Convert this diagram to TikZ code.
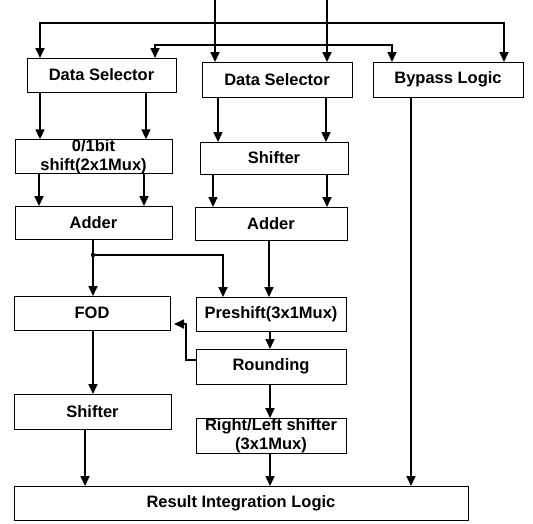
\documentclass[tikz,border=0pt]{standalone}
\usepackage{fontspec}
\setmainfont{Liberation Sans}
\usetikzlibrary{arrows.meta}
\begin{document}
\begin{tikzpicture}[x=1pt,y=-1pt,
  box/.style={draw=black, line width=1pt, inner sep=0pt, outer sep=0pt, align=center,
    font=\bfseries\fontsize{16.5}{19}\selectfont},
  wire/.style={line width=1.7pt, line join=miter},
  arr/.style={wire, -{Triangle[length=10pt,width=9pt]}},
  arrb/.style={wire, {Triangle[length=10pt,width=9pt]}-{Triangle[length=10pt,width=9pt]}}]
\useasboundingbox (0,0) rectangle (533,523);

% boxes
\node[box, minimum width=149pt, minimum height=34pt] (ds1) at (101.5,75) {Data Selector};
\node[box, minimum width=150pt, minimum height=35pt] (ds2) at (277,79.5) {Data Selector};
\node[box, minimum width=150pt, minimum height=35pt] (byp) at (448,79.5) {Bypass Logic};
\node[box, minimum width=157pt, minimum height=33pt] (bit) at (93.5,156.5) {0/1bit\\shift(2x1Mux)};
\node[box, minimum width=148pt, minimum height=32pt] (sh1) at (274,158) {Shifter};
\node[box, minimum width=157pt, minimum height=33pt] (add1) at (93.5,222.5) {Adder};
\node[box, minimum width=152pt, minimum height=33pt] (add2) at (271,223.5) {Adder};
\node[box, minimum width=156pt, minimum height=34pt] (fod) at (92,313) {FOD};
\node[box, minimum width=150pt, minimum height=34pt] (pre) at (271,314) {Preshift(3x1Mux)};
\node[box, minimum width=150pt, minimum height=35pt] (rnd) at (271,366.5) {Rounding};
\node[box, minimum width=157pt, minimum height=35pt] (sh2) at (92.5,411.5) {Shifter};
\node[box, minimum width=150pt, minimum height=35pt] (rl) at (271,435.5) {Right/Left shifter\\(3x1Mux)};
\node[box, minimum width=454pt, minimum height=34pt] (res) at (241,503) {Result Integration Logic};

% inputs
\coordinate (inA) at (215,0);
\coordinate (inB) at (327,0);
\draw[arr] (inA) -- (inA |- ds2.north);
\draw[arr] (inB) -- (inB |- ds2.north);

% distribution lines
\coordinate (la1) at (40,23);
\coordinate (la2) at (504,23);
\draw[arrb] (la1 |- ds1.north) -- (la1) -- (la2) -- (la2 |- byp.north);
\coordinate (lb1) at (155,45);
\coordinate (lb2) at (392,45);
\draw[arrb] (lb1 |- ds1.north) -- (lb1) -- (lb2) -- (lb2 |- byp.north);

% column 1
\draw[arr] (40,0 |- ds1.south) -- (40,0 |- bit.north);
\draw[arr] (146,0 |- ds1.south) -- (146,0 |- bit.north);
\draw[arr] (39,0 |- bit.south) -- (39,0 |- add1.north);
\draw[arr] (144,0 |- bit.south) -- (144,0 |- add1.north);
\draw[arr] (93,0 |- add1.south) -- (93,0 |- fod.north);
\coordinate (dot) at (93,255);
\coordinate (brx) at (223,255);
\fill (dot) circle (2.2pt);
\draw[arr] (dot) -- (brx) -- (brx |- pre.north);
\draw[arr] (93,0 |- fod.south) -- (93,0 |- sh2.north);
\draw[arr] (85,0 |- sh2.south) -- (85,0 |- res.north);

% column 2
\draw[arr] (218,0 |- ds2.south) -- (218,0 |- sh1.north);
\draw[arr] (326,0 |- ds2.south) -- (326,0 |- sh1.north);
\draw[arr] (213,0 |- sh1.south) -- (213,0 |- add2.north);
\draw[arr] (327,0 |- sh1.south) -- (327,0 |- add2.north);
\draw[arr] (269,0 |- add2.south) -- (269,0 |- pre.north);
\draw[arr] (270,0 |- pre.south) -- (270,0 |- rnd.north);
\draw[arr] (270,0 |- rnd.south) -- (270,0 |- rl.north);
\draw[arr] (270,0 |- rl.south) -- (270,0 |- res.north);

% feedback Rounding -> FOD
\coordinate (fb1) at (186,360);
\coordinate (fb2) at (186,324);
\draw[arr, shorten >=4pt] (fb1 -| rnd.west) -- (fb1) -- (fb2) -- (fb2 -| fod.east);

% bypass
\draw[arr] (411,0 |- byp.south) -- (411,0 |- res.north);
\end{tikzpicture}
\end{document}
